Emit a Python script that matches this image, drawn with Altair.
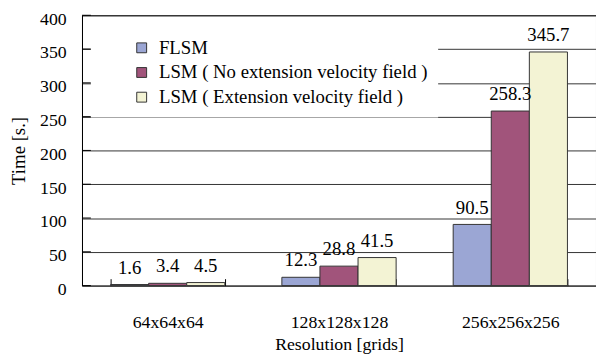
import altair as alt
import pandas as pd

resolutions = ["64x64x64", "128x128x128", "256x256x256"]
series = ["FLSM", "LSM ( No extension velocity field )", "LSM ( Extension velocity field )"]
flsm = [1.6, 12.3, 90.5]
lsm_no = [3.4, 28.8, 258.3]
lsm_ext = [4.5, 41.5, 345.7]
colors = ["#9BA6D4", "#A1547B", "#F3F3D4"]
y_ticks = [0, 50, 100, 150, 200, 250, 300, 350, 400]

rows = []
for s, vals in zip(series, [flsm, lsm_no, lsm_ext]):
    for r, v in zip(resolutions, vals):
        rows.append({"res": r, "series": s, "time": v})
df = pd.DataFrame(rows)
ticks_df = pd.DataFrame({"time": y_ticks})

FONT = "Liberation Serif, Times New Roman, serif"
W, H = 521, 274

x_enc = alt.X(
    "res:N",
    sort=resolutions,
    scale=alt.Scale(paddingInner=0.333, paddingOuter=0.1667),
    axis=alt.Axis(
        title="Resolution [grids]",
        tickBand="extent",
        offset=-7,
        tickSize=7,
        tickColor="#000",
        domain=False,
        labelAngle=0,
        labelBaseline="alphabetic",
        labelPadding=42,
        labelFont=FONT,
        titleFont=FONT,
        titleY=72,
        titleBaseline="alphabetic",
    ),
)

y_enc = alt.Y(
    "time:Q",
    scale=alt.Scale(domain=[0, 400], nice=False),
    axis=alt.Axis(
        values=y_ticks,
        title="Time [s.]",
        ticks=False,
        labelPadding=16,
        labelBaseline="middle",
        labelOffset=4,
        labelFont=FONT,
        titleFont=FONT,
        grid=True,
        gridColor="#333",
        domainColor="#000",
        titleX=-64,
        titleY=H / 2,
        titleAngle=-90,
        titleBaseline="middle",
        titleAlign="center",
        titleFontSize=19,
    ),
)

bars = alt.Chart(df).mark_bar(stroke="#333", strokeWidth=1).encode(
    x=x_enc,
    xOffset=alt.XOffset("series:N", sort=series),
    y=y_enc,
    color=alt.Color(
        "series:N",
        sort=series,
        scale=alt.Scale(domain=series, range=colors),
        legend=alt.Legend(
            title=None,
            orient="none",
            legendX=9,
            legendY=13.5,
            fillColor="#ffffff",
            padding=10,
            symbolType="square",
            symbolSize=100,
            symbolStrokeColor="#333",
            symbolStrokeWidth=1,
            symbolOffset=32,
            labelOffset=8,
            rowPadding=5,
            labelFont=FONT,
            labelFontSize=19,
            labelColor="#000",
            labelLimit=600,
        ),
    ),
)

labels = alt.Chart(df).mark_text(
    dy=-11, baseline="alphabetic", font=FONT, fontSize=19, color="#000"
).encode(
    x=x_enc,
    xOffset=alt.XOffset("series:N", sort=series),
    y=y_enc,
    text=alt.Text("time:Q", format=".1f"),
)

yticks = alt.Chart(ticks_df).mark_rule(color="#000", strokeWidth=1).encode(
    y=y_enc,
    x=alt.value(0),
    x2=alt.value(9),
)

chart = alt.layer(bars, labels, yticks).properties(
    width=W,
    height=H,
    autosize=alt.AutoSizeParams(type="none"),
    padding={"left": 75, "top": 5, "right": 0, "bottom": 70},
).configure(font=FONT).configure_axis(
    labelFont=FONT,
    titleFont=FONT,
    labelFontSize=18,
    titleFontSize=18,
    labelColor="#000",
    titleColor="#000",
    titleFontWeight="normal",
).configure_legend(labelFont=FONT).configure_text(font=FONT).configure_view(
    stroke="#000", strokeWidth=1
)

chart.save("out.html", embed_options={"renderer": "svg", "actions": False})
